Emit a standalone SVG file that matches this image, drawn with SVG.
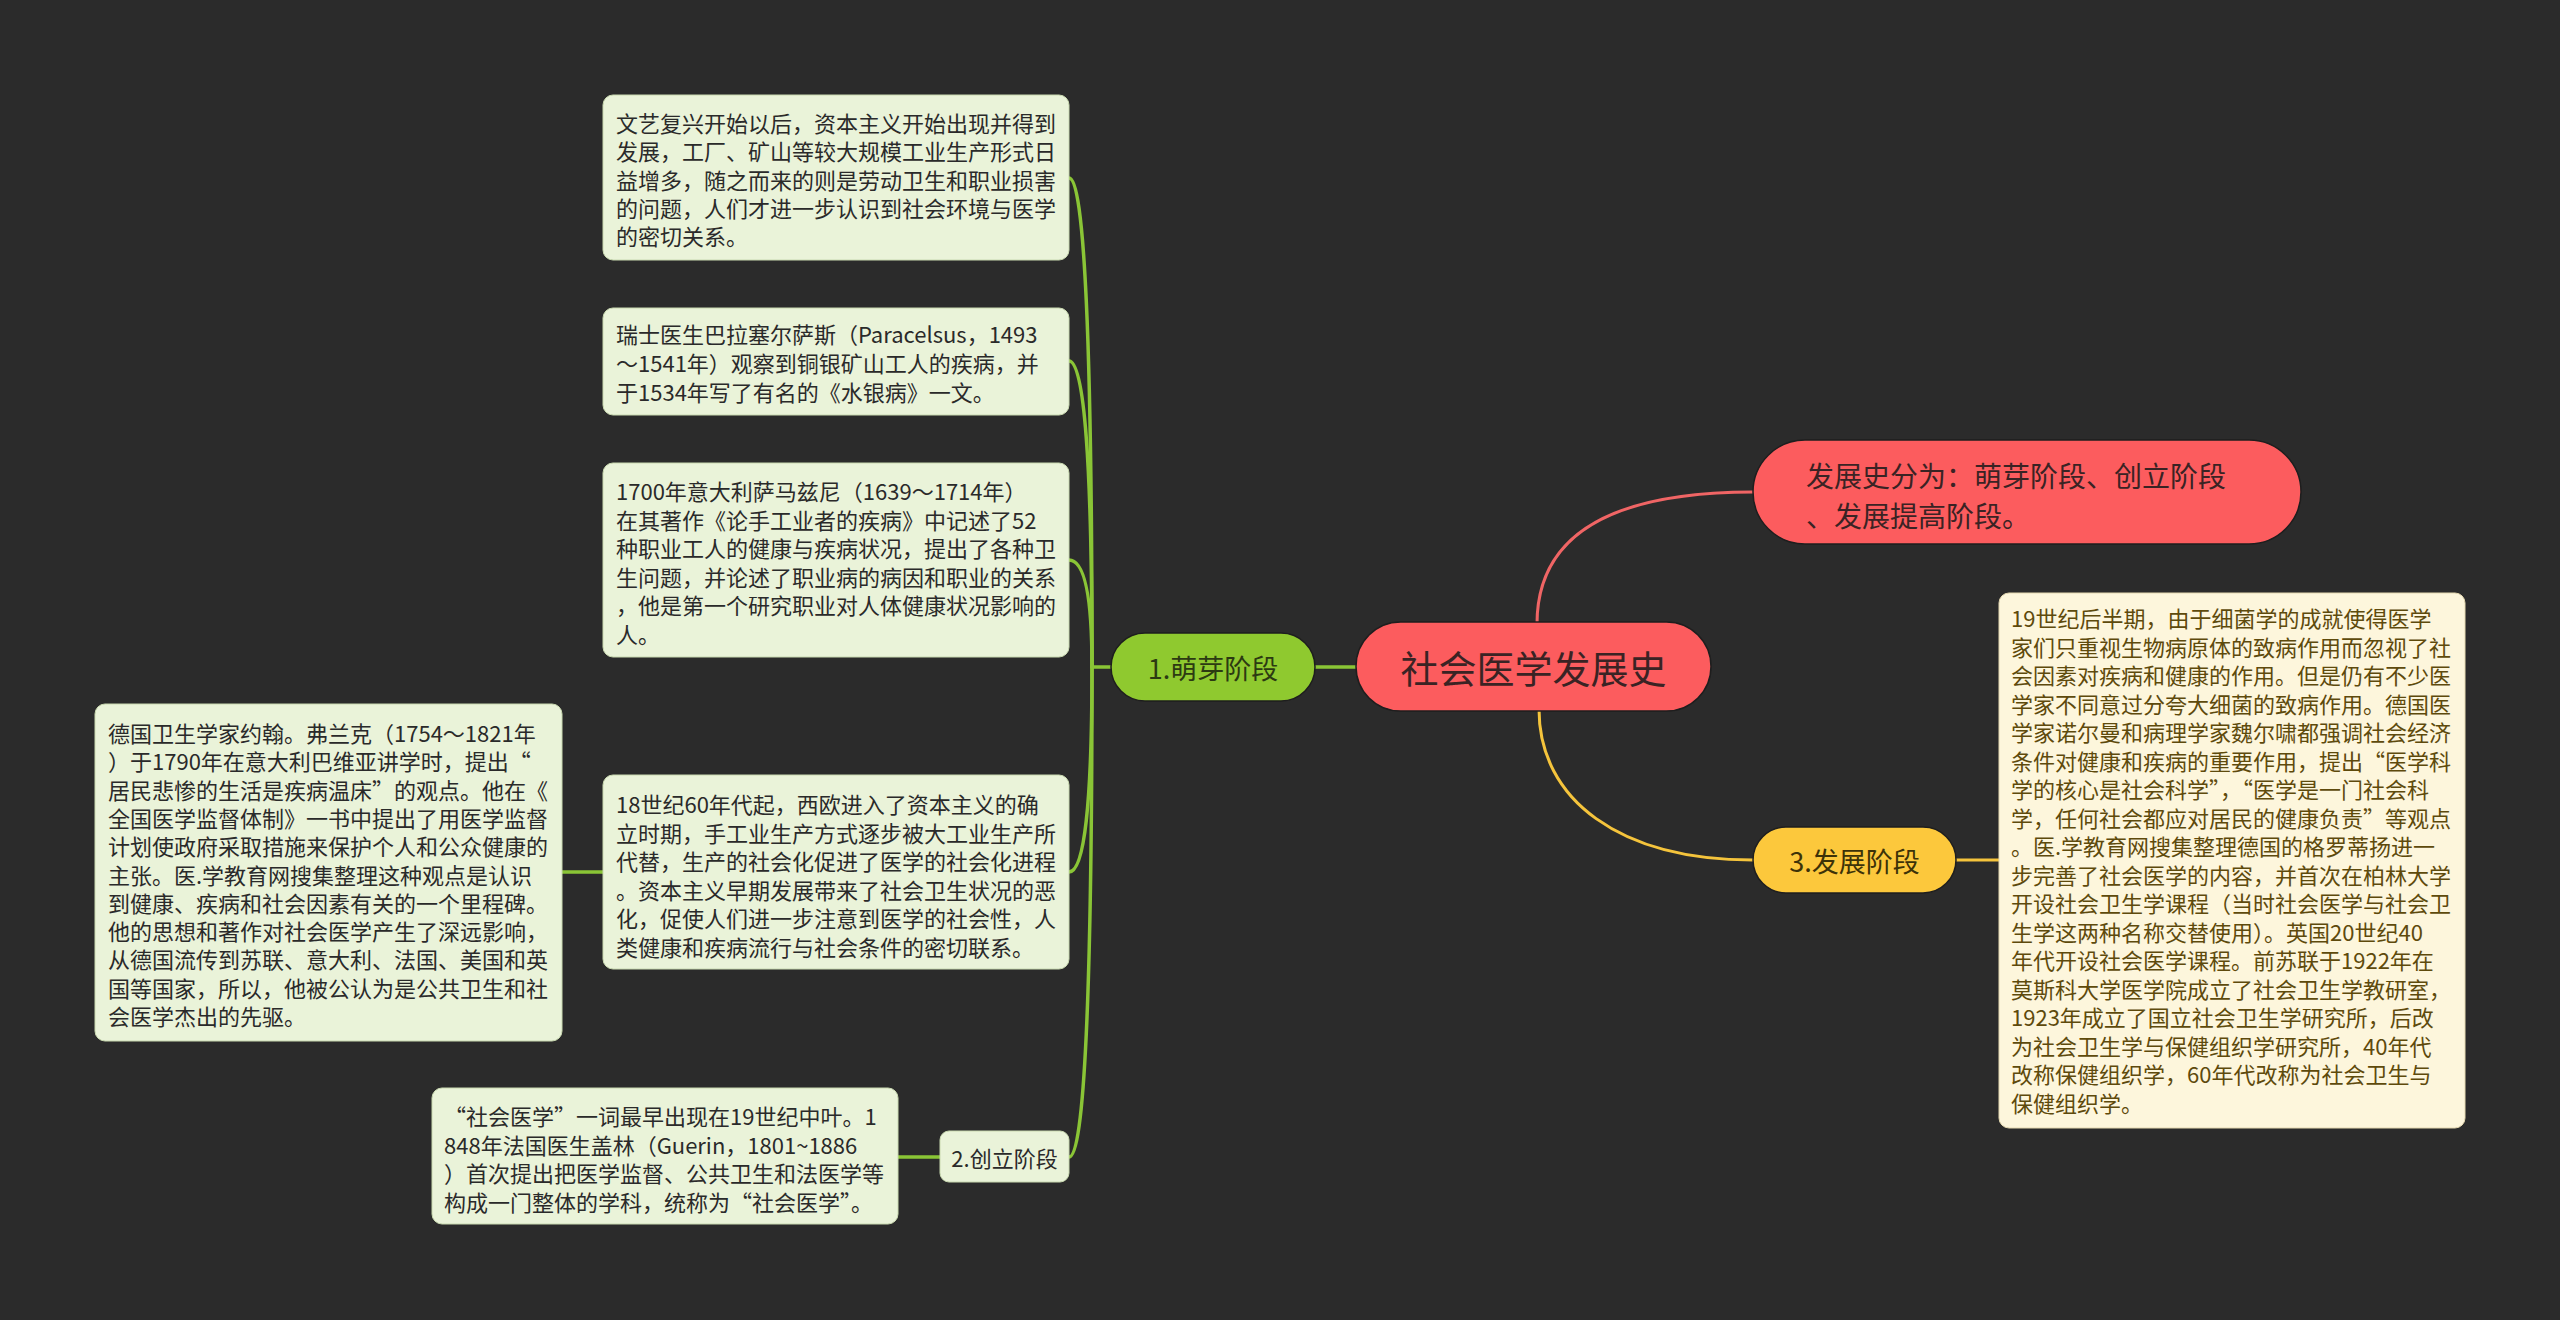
<svg xmlns="http://www.w3.org/2000/svg" width="2560" height="1320" viewBox="0 0 2560 1320">
<style>
.t{font-family:"Noto Sans CJK SC","Noto Sans",sans-serif;dominant-baseline:central}
.body{font-size:22px;fill:#2a2a2a}
.ybody{font-size:22px;fill:#5e4a0c}
.gbox{fill:#eaf3d9;stroke:#c9d9b0;stroke-width:1}
.ybox{fill:#fdf6dc;stroke:#e4d8b0;stroke-width:1}
.gl{stroke:#8ac536;stroke-width:3.5;fill:none;stroke-linecap:round}
.rl{stroke:#f06565;stroke-width:3;fill:none}
.yl{stroke:#f5c43c;stroke-width:3;fill:none}
.pill{stroke:#1e1e1e;stroke-width:1.5}
</style>
<rect x="0" y="0" width="2560" height="1320" fill="#2b2b2b"/>
<g id="connectors">
<path class="gl" d="M1111,667 L1092,667"/>
<path class="gl" d="M1069,178 Q1092,178 1092,667"/>
<path class="gl" d="M1069,361 Q1092,361 1092,667"/>
<path class="gl" d="M1069,560 Q1092,560 1092,667"/>
<path class="gl" d="M1069,872 Q1092,872 1092,667"/>
<path class="gl" d="M1069,1157 Q1092,1157 1092,667"/>
<path class="gl" d="M562,872 L603,872"/>
<path class="gl" d="M898,1157 L940,1157"/>
<path class="gl" d="M1315,667 L1356,667"/>
<path class="rl" d="M1537,624 C1537,530 1620,492 1753,492"/>
<path class="yl" d="M1539,709 C1539,800 1620,860 1753,860"/>
<path class="yl" d="M1956,860 L1999,860"/>
</g>
<g id="root">
<rect class="pill" x="1356" y="622" width="355" height="89" rx="44.5" fill="#fc5c5e"/>
<text class="t" x="1533.5" y="666" font-size="38" fill="#3a2324" text-anchor="middle">社会医学发展史</text>
</g>
<g id="n-summary">
<rect class="pill" x="1753" y="440" width="548" height="104" rx="52" fill="#fc5c5e"/>
<text class="t" x="1806" y="475" font-size="28" fill="#3a2324">发展史分为：萌芽阶段、创立阶段</text>
<text class="t" x="1806" y="515" font-size="28" fill="#3a2324">、发展提高阶段。</text>
</g>
<g id="n-stage1">
<rect class="pill" x="1111" y="633" width="204" height="68" rx="34" fill="#8fc92f"/>
<text class="t" x="1213" y="667" font-size="27" fill="#2c3a12" text-anchor="middle">1.萌芽阶段</text>
</g>
<g id="n-stage3">
<rect class="pill" x="1753" y="827" width="203" height="66" rx="33" fill="#fcc83c"/>
<text class="t" x="1854.5" y="860" font-size="27" fill="#3d3208" text-anchor="middle">3.发展阶段</text>
</g>
<g id="n-stage2">
<rect class="gbox" x="940" y="1131" width="129" height="51" rx="9"/>
<text class="t body" x="1004.5" y="1157" text-anchor="middle">2.创立阶段</text>
</g>
<g id="n-renaissance">
<rect class="gbox" x="603" y="95" width="466" height="165" rx="10"/>
<text class="t body" x="616" y="122">文艺复兴开始以后，资本主义开始出现并得到</text>
<text class="t body" x="616" y="150">发展，工厂、矿山等较大规模工业生产形式日</text>
<text class="t body" x="616" y="178.5">益增多，随之而来的则是劳动卫生和职业损害</text>
<text class="t body" x="616" y="207">的问题，人们才进一步认识到社会环境与医学</text>
<text class="t body" x="616" y="235">的密切关系。</text>
</g>
<g id="n-paracelsus">
<rect class="gbox" x="603" y="308" width="466" height="107" rx="10"/>
<text class="t body" x="616" y="333">瑞士医生巴拉塞尔萨斯（Paracelsus，1493</text>
<text class="t body" x="616" y="362">～1541年）观察到铜银矿山工人的疾病，并</text>
<text class="t body" x="616" y="391">于1534年写了有名的《水银病》一文。</text>
</g>
<g id="n-ramazzini">
<rect class="gbox" x="603" y="463" width="466" height="194" rx="10"/>
<text class="t body" x="616" y="490">1700年意大利萨马兹尼（1639～1714年）</text>
<text class="t body" x="616" y="518.5">在其著作《论手工业者的疾病》中记述了52</text>
<text class="t body" x="616" y="547">种职业工人的健康与疾病状况，提出了各种卫</text>
<text class="t body" x="616" y="575.5">生问题，并论述了职业病的病因和职业的关系</text>
<text class="t body" x="616" y="604">，他是第一个研究职业对人体健康状况影响的</text>
<text class="t body" x="616" y="632.5">人。</text>
</g>
<g id="n-18c">
<rect class="gbox" x="603" y="775" width="466" height="194" rx="10"/>
<text class="t body" x="616" y="803">18世纪60年代起，西欧进入了资本主义的确</text>
<text class="t body" x="616" y="831.5">立时期，手工业生产方式逐步被大工业生产所</text>
<text class="t body" x="616" y="860">代替，生产的社会化促进了医学的社会化进程</text>
<text class="t body" x="616" y="888.5">。资本主义早期发展带来了社会卫生状况的恶</text>
<text class="t body" x="616" y="917">化，促使人们进一步注意到医学的社会性，人</text>
<text class="t body" x="616" y="945.5">类健康和疾病流行与社会条件的密切联系。</text>
</g>
<g id="n-frank">
<rect class="gbox" x="95" y="704" width="467" height="337" rx="10"/>
<text class="t body" x="108" y="732">德国卫生学家约翰。弗兰克（1754～1821年</text>
<text class="t body" x="108" y="760.3">）于1790年在意大利巴维亚讲学时，提出“</text>
<text class="t body" x="108" y="788.6">居民悲惨的生活是疾病温床”的观点。他在《</text>
<text class="t body" x="108" y="816.9">全国医学监督体制》一书中提出了用医学监督</text>
<text class="t body" x="108" y="845.2">计划使政府采取措施来保护个人和公众健康的</text>
<text class="t body" x="108" y="873.5">主张。医.学教育网搜集整理这种观点是认识</text>
<text class="t body" x="108" y="901.8">到健康、疾病和社会因素有关的一个里程碑。</text>
<text class="t body" x="108" y="930.1">他的思想和著作对社会医学产生了深远影响，</text>
<text class="t body" x="108" y="958.4">从德国流传到苏联、意大利、法国、美国和英</text>
<text class="t body" x="108" y="986.7">国等国家，所以，他被公认为是公共卫生和社</text>
<text class="t body" x="108" y="1015">会医学杰出的先驱。</text>
</g>
<g id="n-guerin">
<rect class="gbox" x="432" y="1088" width="466" height="136" rx="10"/>
<text class="t body" x="444" y="1115">“社会医学”一词最早出现在19世纪中叶。1</text>
<text class="t body" x="444" y="1143.5">848年法国医生盖林（Guerin，1801~1886</text>
<text class="t body" x="444" y="1172">）首次提出把医学监督、公共卫生和法医学等</text>
<text class="t body" x="444" y="1200.5">构成一门整体的学科，统称为“社会医学”。</text>
</g>
<g id="n-development">
<rect class="ybox" x="1999" y="593" width="466" height="535" rx="10"/>
<text class="t ybody" x="2011" y="617">19世纪后半期，由于细菌学的成就使得医学</text>
<text class="t ybody" x="2011" y="645.5">家们只重视生物病原体的致病作用而忽视了社</text>
<text class="t ybody" x="2011" y="674">会因素对疾病和健康的作用。但是仍有不少医</text>
<text class="t ybody" x="2011" y="702.5">学家不同意过分夸大细菌的致病作用。德国医</text>
<text class="t ybody" x="2011" y="731">学家诺尔曼和病理学家魏尔啸都强调社会经济</text>
<text class="t ybody" x="2011" y="759.5">条件对健康和疾病的重要作用，提出“医学科</text>
<text class="t ybody" x="2011" y="788">学的核心是社会科学”，“医学是一门社会科</text>
<text class="t ybody" x="2011" y="816.5">学，任何社会都应对居民的健康负责”等观点</text>
<text class="t ybody" x="2011" y="845">。医.学教育网搜集整理德国的格罗蒂扬进一</text>
<text class="t ybody" x="2011" y="873.5">步完善了社会医学的内容，并首次在柏林大学</text>
<text class="t ybody" x="2011" y="902">开设社会卫生学课程（当时社会医学与社会卫</text>
<text class="t ybody" x="2011" y="930.5">生学这两种名称交替使用）。英国20世纪40</text>
<text class="t ybody" x="2011" y="959">年代开设社会医学课程。前苏联于1922年在</text>
<text class="t ybody" x="2011" y="987.5">莫斯科大学医学院成立了社会卫生学教研室，</text>
<text class="t ybody" x="2011" y="1016">1923年成立了国立社会卫生学研究所，后改</text>
<text class="t ybody" x="2011" y="1044.5">为社会卫生学与保健组织学研究所，40年代</text>
<text class="t ybody" x="2011" y="1073">改称保健组织学，60年代改称为社会卫生与</text>
<text class="t ybody" x="2011" y="1101.5">保健组织学。</text>
</g>
</svg>
